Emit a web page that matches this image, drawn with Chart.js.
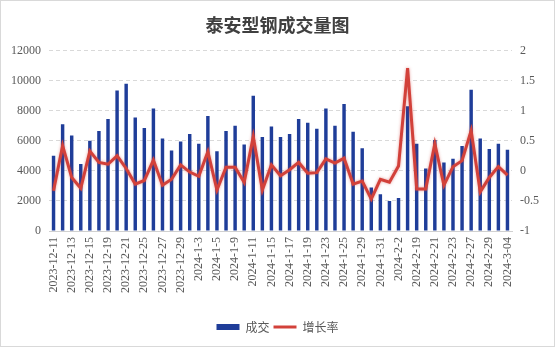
<!DOCTYPE html>
<html>
<head>
<meta charset="utf-8">
<title>泰安型钢成交量图</title>
<script src="https://cdn.jsdelivr.net/npm/chart.js@4/dist/chart.umd.min.js"></script>
<style>
    html, body { margin: 0; padding: 0; background: #fff; }
    #wrap {
        width: 555px;
        height: 347px;
        box-sizing: border-box;
        border: 1px solid #d9d9d9;
        position: relative;
    }
</style>
</head>
<body>
<div id="wrap"><canvas id="volume-chart"></canvas></div>
<script>
const dates = [
    '2023-12-11', '2023-12-12', '2023-12-13', '2023-12-14', '2023-12-15',
    '2023-12-18', '2023-12-19', '2023-12-20', '2023-12-21', '2023-12-22',
    '2023-12-25', '2023-12-26', '2023-12-27', '2023-12-28', '2023-12-29',
    '2024-1-2', '2024-1-3', '2024-1-4', '2024-1-5', '2024-1-8',
    '2024-1-9', '2024-1-10', '2024-1-11', '2024-1-12', '2024-1-15',
    '2024-1-16', '2024-1-17', '2024-1-18', '2024-1-19', '2024-1-22',
    '2024-1-23', '2024-1-24', '2024-1-25', '2024-1-26', '2024-1-29',
    '2024-1-30', '2024-1-31', '2024-2-1', '2024-2-2', '2024-2-18',
    '2024-2-19', '2024-2-20', '2024-2-21', '2024-2-22', '2024-2-23',
    '2024-2-26', '2024-2-27', '2024-2-28', '2024-2-29', '2024-3-1',
    '2024-3-04'
]

// 成交 (left axis)
const volumes = [
    5000, 7100, 6350, 4450, 6000, 6650, 7450, 9350, 9800, 7550,
    6850, 8150, 6150, 5350, 5950, 6450, 5800, 7650, 5300, 6650,
    7000, 5750, 9000, 6250, 6950, 6250, 6450, 7450, 7200, 6800,
    8150, 7000, 8450, 6600, 5500, 2900, 2450, 2000, 2200, 8300,
    5800, 4150, 6050, 4550, 4800, 5650, 9400, 6150, 5450, 5800,
    5400
]

// 增长率 (right axis)
const growth = [
    -0.33, 0.42, -0.11, -0.29, 0.33, 0.14, 0.11, 0.25, 0.04, -0.22,
    -0.16, 0.18, -0.24, -0.14, 0.10, -0.02, -0.09, 0.32, -0.32, 0.06,
    0.06, -0.19, 0.57, -0.32, 0.10, -0.08, 0.02, 0.14, -0.04, -0.03,
    0.20, 0.13, 0.21, -0.22, -0.17, -0.47, -0.14, -0.19, 0.08, 1.71,
    -0.30, -0.30, 0.45, -0.24, 0.07, 0.17, 0.67, -0.35, -0.11, 0.07,
    -0.07
]

const volumeTicks = { min: 0, max: 12000, step: 2000 }
const growthTicks = { min: -1, max: 2, step: 0.5 }

const tickFont = { family: '"Liberation Serif", serif', size: 12 }
const cjkFont = '"Noto Sans CJK SC", sans-serif'

// soft shadow under the red line
const lineGlow = {
    id: 'lineGlow',
    beforeDatasetDraw(chart, args) {
        if (args.meta.type !== 'line') return
        chart.ctx.save()
        chart.ctx.shadowColor = 'rgba(210, 60, 55, 0.5)'
        chart.ctx.shadowBlur = 3
    },
    afterDatasetDraw(chart, args) {
        if (args.meta.type !== 'line') return
        chart.ctx.restore()
    }
}

const chart = new Chart(document.getElementById('volume-chart'), {
    type: 'bar',
    data: {
        labels: dates,
        datasets: [{
            type: 'bar',
            label: '成交',
            data: volumes,
            backgroundColor: '#1f3d99',
            borderWidth: 0,
            categoryPercentage: 0.38,
            barPercentage: 1,
            yAxisID: 'y',
            order: 1
        }, {
            type: 'line',
            label: '增长率',
            data: growth,
            borderColor: '#d2413a',
            backgroundColor: '#d2413a',
            borderWidth: 3,
            pointRadius: 0,
            tension: 0,
            yAxisID: 'y1',
            order: 0
        }]
    },
    options: {
        responsive: true,
        maintainAspectRatio: false,
        animation: false,
        layout: {
            padding: { left: 0, right: 0, top: 0, bottom: 3 }
        },
        plugins: {
            title: {
                display: true,
                text: '泰安型钢成交量图',
                color: '#404040',
                font: { family: cjkFont, size: 18, weight: 'bold', lineHeight: 1.2 },
                padding: { top: 13, bottom: 15 }
            },
            legend: {
                position: 'bottom',
                labels: {
                    usePointStyle: true,
                    pointStyleWidth: 23,
                    boxHeight: 6,
                    padding: 4,
                    color: '#595959',
                    font: { family: cjkFont, size: 12 },
                    sort: (a, b) => a.datasetIndex - b.datasetIndex,
                    generateLabels: c => Chart.defaults.plugins.legend.labels.generateLabels(c).map(item => {
                        item.pointStyle = item.datasetIndex === 0 ? 'rect' : 'line'
                        return item
                    })
                }
            },
            tooltip: { enabled: false }
        },
        scales: {
            x: {
                offset: true,
                grid: { display: false, drawTicks: false },
                border: { display: true, color: '#d0d0d0', width: 1 },
                ticks: {
                    autoSkip: false,
                    maxRotation: 90,
                    minRotation: 90,
                    padding: 6,
                    color: '#595959',
                    font: tickFont,
                    callback: (value, index) => index % 2 === 0 ? dates[index] : ''
                },
                afterFit: scale => { scale.height = 86 }
            },
            y: {
                position: 'left',
                min: volumeTicks.min,
                max: volumeTicks.max,
                grid: { color: '#d9d9d9', lineWidth: 1, drawTicks: false },
                border: { display: false, dash: [4, 3] },
                ticks: {
                    stepSize: volumeTicks.step,
                    padding: 8,
                    color: '#595959',
                    font: tickFont,
                    callback: value => String(value)
                },
                afterFit: scale => { scale.width = 48 }
            },
            y1: {
                position: 'right',
                min: growthTicks.min,
                max: growthTicks.max,
                grid: { display: false, drawTicks: false },
                border: { display: false },
                ticks: {
                    stepSize: growthTicks.step,
                    padding: 8,
                    color: '#595959',
                    font: tickFont,
                    callback: value => String(value)
                },
                afterFit: scale => { scale.width = 42 }
            }
        }
    },
    plugins: [lineGlow]
})
</script>
</body>
</html>
